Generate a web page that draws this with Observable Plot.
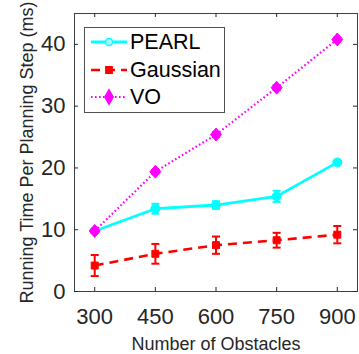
<!DOCTYPE html>
<html>
<head>
<meta charset="utf-8">
<script src="https://cdn.jsdelivr.net/npm/d3@7"></script>
<script src="https://cdn.jsdelivr.net/npm/@observablehq/plot@0.6"></script>
<style>
  html, body { margin: 0; padding: 0; background: #fff; }
  #wrap { position: relative; width: 359px; height: 354px; font-family: "Liberation Sans", Arial, sans-serif; }
  #legend { position: absolute; left: 84px; top: 27px; width: 141px; height: 86px; border: 1px solid #505050; background: #fff; box-sizing: border-box; }
  .row { position: absolute; left: 0; height: 26px; display: flex; align-items: center; }
  .row span { font-size: 21.5px; color: #000; margin-left: 3px; line-height: 26px; }
  .row svg { margin-left: 6px; }
</style>
</head>
<body>
<div id="wrap"></div>
<script>
// ---- data ----
const obstacles = [300, 450, 600, 750, 900];
const pearl = [9.8, 13.4, 14.0, 15.4, 20.9];
const pearlErr = [0.3, 0.8, 0.6, 0.9, 0.3];
const gaussian = [4.2, 6.1, 7.5, 8.3, 9.2];
const gaussianErr = [1.7, 1.6, 1.4, 1.2, 1.4];
const vo = [9.8, 19.4, 25.4, 33.0, 40.8];
const voErr = [0.3, 0.3, 0.4, 0.4, 0.3];
const xTicks = [300, 450, 600, 750, 900];
const yTicks = [0, 10, 20, 30, 40];
const seriesNames = ["PEARL", "Gaussian", "VO"];

// ---- styling ----
const W = 359, H = 354;
const mL = 74, mR = 2, mT = 13, mB = 63;
const plotW = W - mL - mR, plotH = H - mT - mB;
const ink = "#262626";
const colors = {PEARL: "#00ffff", Gaussian: "#ff0000", VO: "#ff00ff"};
const dash = {PEARL: null, Gaussian: "9,6", VO: "1.6,2.4"};
const widths = {PEARL: 2.8, Gaussian: 2.6, VO: 2.2};

const build = (name, vals, errs) => obstacles.map((x, i) => ({series: name, x, y: vals[i], e: errs[i]}));
const sets = {
  PEARL: build("PEARL", pearl, pearlErr),
  Gaussian: build("Gaussian", gaussian, gaussianErr),
  VO: build("VO", vo, voErr)
};

const cap = {draw(ctx) { ctx.moveTo(-4, 0); ctx.lineTo(4, 0); }};
const diamond = {draw(ctx) { ctx.moveTo(0, -6.5); ctx.lineTo(5.5, 0); ctx.lineTo(0, 6.5); ctx.lineTo(-5.5, 0); ctx.closePath(); }};
const square = {draw(ctx) { ctx.moveTo(-3.5, -3.5); ctx.lineTo(3.5, -3.5); ctx.lineTo(3.5, 3.5); ctx.lineTo(-3.5, 3.5); ctx.closePath(); }};
const symbols = {PEARL: "circle", Gaussian: square, VO: diamond};
const radius = {PEARL: 4.5, Gaussian: 4, VO: 5};

const seriesMarks = [];
for (const name of ["Gaussian", "PEARL", "VO"]) {
  const d = sets[name];
  const c = colors[name];
  seriesMarks.push(
    Plot.line(d, {x: "x", y: "y", stroke: c, strokeWidth: widths[name], strokeDasharray: dash[name], strokeLinecap: "butt"}),
    Plot.ruleX(d, {x: "x", y1: r => r.y - r.e, y2: r => r.y + r.e, stroke: c, strokeWidth: 2}),
    Plot.dot(d, {x: "x", y: r => r.y - r.e, symbol: cap, stroke: c, strokeWidth: 2}),
    Plot.dot(d, {x: "x", y: r => r.y + r.e, symbol: cap, stroke: c, strokeWidth: 2}),
    Plot.dot(d, {x: "x", y: "y", symbol: symbols[name], r: radius[name], fill: c, stroke: c, strokeWidth: 1})
  );
}

const chart = Plot.plot({
  width: W, height: H,
  marginLeft: mL, marginRight: mR, marginTop: mT, marginBottom: mB,
  style: {fontFamily: '"Liberation Sans", Arial, sans-serif', color: ink, background: "#fff"},
  x: {domain: [250, 950]},
  y: {domain: [0, 45]},
  marks: [
    Plot.frame({stroke: "#404040", strokeWidth: 1}),
    Plot.ruleX(xTicks, {stroke: ink, insetTop: plotH - 4}),
    Plot.ruleX(xTicks, {stroke: ink, insetBottom: plotH - 4}),
    Plot.ruleY(yTicks, {stroke: ink, insetRight: plotW - 4}),
    Plot.ruleY(yTicks, {stroke: ink, insetLeft: plotW - 4}),
    Plot.axisX(xTicks, {tickSize: 0, tickPadding: 17, fontSize: 22, fill: ink,
      label: "Number of Obstacles", labelAnchor: "center", labelArrow: "none", labelOffset: 58}),
    Plot.axisY(yTicks, {tickSize: 0, tickPadding: 9, fontSize: 22, fill: ink,
      label: "Running Time Per Planning Step (ms)", labelAnchor: "center", labelArrow: "none", labelOffset: 54}),
    ...seriesMarks
  ]
});
chart.querySelectorAll("g[aria-label='x-axis label'] text, g[aria-label='y-axis label'] text").forEach(t => t.setAttribute("font-size", 18));
document.getElementById("wrap").appendChild(chart);

// ---- legend ----
const legend = document.createElement("div");
legend.id = "legend";
const rowTops = [1, 29, 56];
seriesNames.forEach((name, i) => {
  const row = document.createElement("div");
  row.className = "row";
  row.style.top = rowTops[i] + "px";
  const svg = d3.create("svg").attr("width", 36).attr("height", 26);
  svg.append("line").attr("x1", 0).attr("x2", 36).attr("y1", 13).attr("y2", 13)
    .attr("stroke", colors[name]).attr("stroke-width", widths[name])
    .attr("stroke-dasharray", dash[name]);
  const sym = d3.symbol().type(name === "PEARL" ? d3.symbolCircle : (name === "Gaussian" ? d3.symbolSquare : d3.symbolDiamond)).size(name === "VO" ? 60 : 40);
  svg.append("path").attr("d", sym()).attr("transform", "translate(18,13)")
    .attr("fill", name === "PEARL" ? "#aaffff" : colors[name]).attr("stroke", colors[name]).attr("stroke-width", 1.5);
  row.appendChild(svg.node());
  const label = document.createElement("span");
  label.textContent = name;
  row.appendChild(label);
  legend.appendChild(row);
});
document.getElementById("wrap").appendChild(legend);
</script>
</body>
</html>
